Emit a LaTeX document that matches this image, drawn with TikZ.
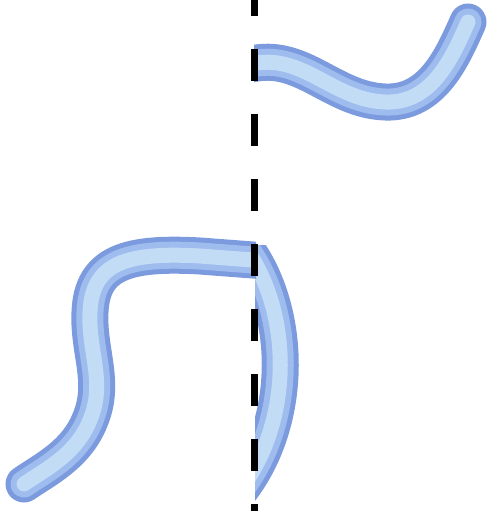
\documentclass[tikz,border=0pt]{standalone}
\usepackage{tikz}
\definecolor{tbEdge}{RGB}{124,154,222}
\definecolor{tbMid}{RGB}{158,188,238}
\definecolor{tbCore}{RGB}{194,220,246}

\begin{document}
\begin{tikzpicture}[x=1pt,y=-1pt,
   tube/.style={draw=tbEdge,line width=37pt,line cap=round,
     postaction={draw=tbMid,line width=27pt},
     postaction={draw=tbCore,line width=15pt}},
   cut/.style={black,line width=7pt,dash pattern=on 32pt off 33pt,dash phase=16pt}]
\useasboundingbox (0,0) rectangle (491,511);

%% ---- upper strand (right of the cut) ----
\begin{scope}
  \clip (254,0) rectangle (491,200);
  \draw[tube] (244,66) .. controls (300,48) and (330,100) .. (385,102)
    .. controls (432,104) and (452,58) .. (468,22);
\end{scope}

%% ---- lower strand, folded part (right of the cut) ----
\begin{scope}
  \clip (255,245) rectangle (320,511);
  \draw[tube,line cap=butt] (244,246) .. controls (292,310) and (294,420) .. (240,490);
\end{scope}

%% ---- lower strand, left part ----
\begin{scope}
  \clip (0,200) rectangle (256,511);
  \draw[tube] (266,261) -- (200,256) .. controls (128,252) and (92,262) .. (90,312)
    .. controls (88,352) and (106,382) .. (90,420)
    .. controls (76,455) and (44,470) .. (24,484);
\end{scope}

%% ---- cutting line ----
\draw[cut] (254.5,0) -- (254.5,511);
\end{tikzpicture}
\end{document}
